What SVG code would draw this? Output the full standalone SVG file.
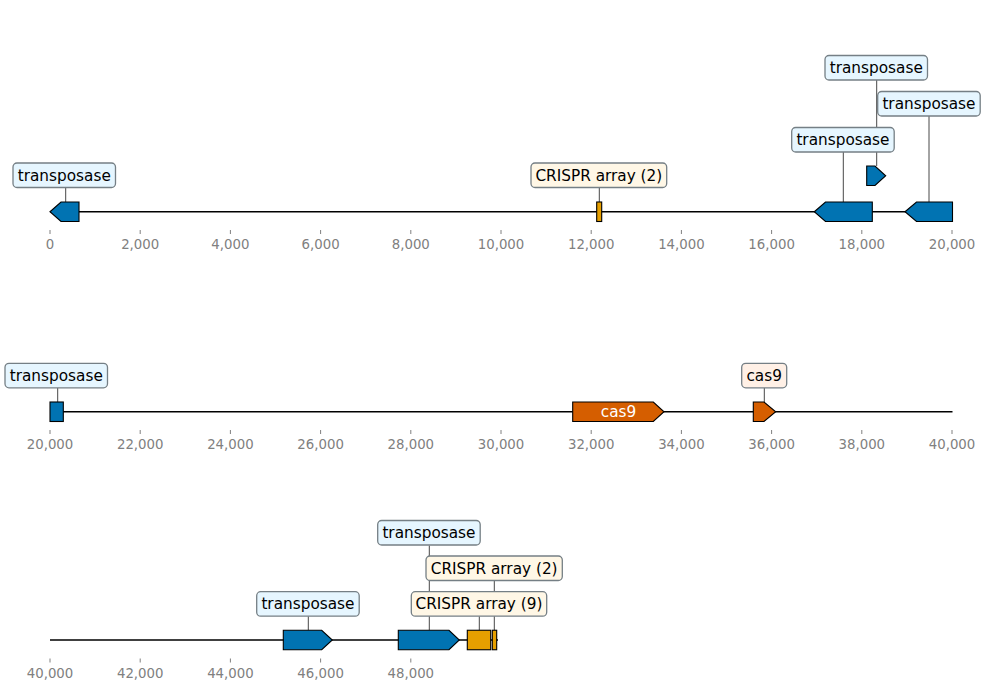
<svg xmlns="http://www.w3.org/2000/svg" width="987" height="692" viewBox="0 0 987 692">
<style>
.axis{stroke:#000;stroke-width:1.7;fill:none}
.tick{stroke:#808080;stroke-width:1}
.tl{font-family:"DejaVu Sans",sans-serif;font-size:13.3px;fill:#808080;text-anchor:middle}
.feat{stroke:#000;stroke-width:1.1}
.tr{fill:#0173b2}
.cr{fill:#e69f00}
.c9{fill:#d55e00}
.lead{stroke:#333;stroke-width:0.9}
.box{stroke:#757f85;stroke-width:1.3}
.btr{fill:#e6f6ff}
.bcr{fill:#fff7e6}
.bc9{fill:#fff0e6}
.lt{font-family:"DejaVu Sans",sans-serif;font-size:15.3px;fill:#000;text-anchor:middle}
.wt{font-family:"DejaVu Sans",sans-serif;font-size:15.3px;fill:#fff;text-anchor:middle}
</style>
<rect width="987" height="692" fill="#fff"/>

<g id="axes">
<line class="axis" x1="50" y1="211.75" x2="952.5" y2="211.75"/>
<line class="axis" x1="50" y1="411.75" x2="952.5" y2="411.75"/>
<line class="axis" x1="50" y1="640" x2="498" y2="640"/>
<g class="tick">
<path d="M50 230v4M140.2 230v4M230.4 230v4M320.6 230v4M410.8 230v4M501 230v4M591.2 230v4M681.4 230v4M771.6 230v4M861.8 230v4M952 230v4"/>
<path d="M50 430v4M140.2 430v4M230.4 430v4M320.6 430v4M410.8 430v4M501 430v4M591.2 430v4M681.4 430v4M771.6 430v4M861.8 430v4M952 430v4"/>
<path d="M50 658.5v4M140.2 658.5v4M230.4 658.5v4M320.6 658.5v4M410.8 658.5v4"/>
</g>
<g class="tl">
<text x="50" y="249">0</text><text x="140.2" y="249">2,000</text><text x="230.4" y="249">4,000</text><text x="320.6" y="249">6,000</text><text x="410.8" y="249">8,000</text><text x="501" y="249">10,000</text><text x="591.2" y="249">12,000</text><text x="681.4" y="249">14,000</text><text x="771.6" y="249">16,000</text><text x="861.8" y="249">18,000</text><text x="952" y="249">20,000</text>
<text x="50" y="449">20,000</text><text x="140.2" y="449">22,000</text><text x="230.4" y="449">24,000</text><text x="320.6" y="449">26,000</text><text x="410.8" y="449">28,000</text><text x="501" y="449">30,000</text><text x="591.2" y="449">32,000</text><text x="681.4" y="449">34,000</text><text x="771.6" y="449">36,000</text><text x="861.8" y="449">38,000</text><text x="952" y="449">40,000</text>
<text x="50" y="677.5">40,000</text><text x="140.2" y="677.5">42,000</text><text x="230.4" y="677.5">44,000</text><text x="320.6" y="677.5">46,000</text><text x="410.8" y="677.5">48,000</text>
</g>
</g>

<g id="connectors">
<line class="lead" x1="65.7" y1="187.5" x2="65.7" y2="202"/>
<line class="lead" x1="599.3" y1="187.5" x2="599.3" y2="202"/>
<line class="lead" x1="876.7" y1="80" x2="876.7" y2="166"/>
<line class="lead" x1="929" y1="116" x2="929" y2="202"/>
<line class="lead" x1="843.3" y1="152" x2="843.3" y2="202"/>
<line class="lead" x1="57.7" y1="387.8" x2="57.7" y2="402"/>
<line class="lead" x1="764.3" y1="387.8" x2="764.3" y2="402"/>
<line class="lead" x1="308.3" y1="616.2" x2="308.3" y2="630.25"/>
<line class="lead" x1="429.3" y1="545.5" x2="429.3" y2="630.25"/>
<line class="lead" x1="494.3" y1="580.5" x2="494.3" y2="630.25"/>
<line class="lead" x1="479.3" y1="616.2" x2="479.3" y2="630.25"/>
</g>

<g id="f1"><polygon class="feat tr" points="50,211.75 61,202 79,202 79,221.5 61,221.5"/></g>
<g id="f2"><rect class="feat cr" x="596.7" y="202" width="5" height="19.5"/></g>
<g id="f3"><polygon class="feat tr" points="814.3,211.75 825.5,202 872.3,202 872.3,221.5 825.5,221.5"/></g>
<g id="f4"><polygon class="feat tr" points="905,211.75 916.5,202 952.5,202 952.5,221.5 916.5,221.5"/></g>
<g id="f5"><polygon class="feat tr" points="866.7,166 875,166 885.7,175.75 875,185.5 866.7,185.5"/></g>
<g id="f6"><rect class="feat tr" x="50" y="402" width="13.3" height="19.5"/></g>
<g id="f7"><polygon class="feat c9" points="572.7,402 653.3,402 664,411.75 653.3,421.5 572.7,421.5"/><text class="wt" x="618.5" y="417">cas9</text></g>
<g id="f8"><polygon class="feat c9" points="753.3,402 764,402 775.7,411.75 764,421.5 753.3,421.5"/></g>
<g id="f9"><polygon class="feat tr" points="283.3,630.25 321.7,630.25 332.3,640 321.7,649.75 283.3,649.75"/></g>
<g id="f10"><polygon class="feat tr" points="398.3,630.25 449,630.25 459.3,640 449,649.75 398.3,649.75"/></g>
<g id="f11"><rect class="feat cr" x="467.3" y="630.25" width="23.4" height="19.5"/></g>
<g id="f12"><rect class="feat cr" x="492.3" y="630.25" width="4.4" height="19.5"/></g>

<g id="l1"><rect class="box btr" x="13" y="163" width="102.5" height="24.5" rx="4"/><text class="lt" x="64.25" y="180.5">transposase</text></g>
<g id="l2"><rect class="box bcr" x="531" y="163" width="135.7" height="24.5" rx="4"/><text class="lt" x="598.85" y="180.5">CRISPR array (2)</text></g>
<g id="l3"><rect class="box btr" x="825" y="55.5" width="102.5" height="24.5" rx="4"/><text class="lt" x="876.25" y="73">transposase</text></g>
<g id="l4"><rect class="box btr" x="877.7" y="91.5" width="102.5" height="24.5" rx="4"/><text class="lt" x="928.95" y="109">transposase</text></g>
<g id="l5"><rect class="box btr" x="791.7" y="127.5" width="102.5" height="24.5" rx="4"/><text class="lt" x="842.95" y="145">transposase</text></g>
<g id="l6"><rect class="box btr" x="5" y="363.3" width="102.5" height="24.5" rx="4"/><text class="lt" x="56.25" y="380.8">transposase</text></g>
<g id="l7"><rect class="box bc9" x="741.7" y="363.3" width="45" height="24.5" rx="4"/><text class="lt" x="764.2" y="380.8">cas9</text></g>
<g id="l8"><rect class="box btr" x="256.7" y="591.7" width="102.5" height="24.5" rx="4"/><text class="lt" x="307.95" y="609.2">transposase</text></g>
<g id="l9"><rect class="box btr" x="377.7" y="520.5" width="102.5" height="24.5" rx="4"/><text class="lt" x="428.95" y="538">transposase</text></g>
<g id="l10"><rect class="box bcr" x="426" y="556" width="136.3" height="24.5" rx="4"/><text class="lt" x="494.15" y="573.5">CRISPR array (2)</text></g>
<g id="l11"><rect class="box bcr" x="411.3" y="591.7" width="135.4" height="24.5" rx="4"/><text class="lt" x="479" y="609.2">CRISPR array (9)</text></g>
</svg>
